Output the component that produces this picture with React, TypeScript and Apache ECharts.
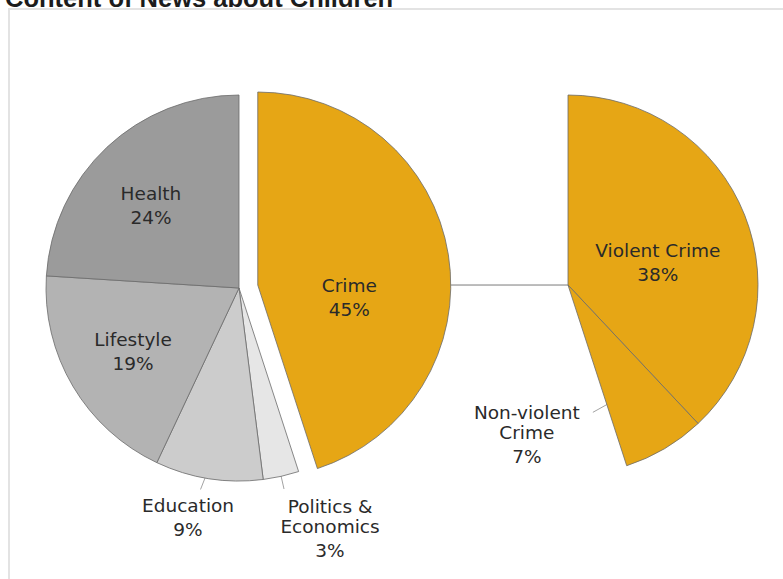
import React, { useEffect, useRef } from 'react';
import * as echarts from 'echarts';

// ---------- data ----------
const title = 'Content of News about Children';
const categories = ['Crime', 'Politics &\nEconomics', 'Education', 'Lifestyle', 'Health'];
const shares = [45, 3, 9, 19, 24];
const crimeTypes = ['Violent Crime', 'Non-violent\nCrime'];
const crimeShares = [38, 7];

// ---------- style ----------
const categoryColors = ['#E6A615', '#E6E6E6', '#CCCCCC', '#B3B3B3', '#9B9B9B'];
const crimeColor = '#E6A615';
const FONT = '"DejaVu Sans", sans-serif';
const TEXT = '#2a2a2a';
const CLEAR = 'rgba(0,0,0,0)';

const LEFT_C = [239, 288];
const LEFT_R = 193;
const OFFSET = 19;
const RIGHT_CX = 568;
const RIGHT_R = 190;

const deg = Math.PI / 180;
const total = shares.reduce((a, b) => a + b, 0);
function midAngles(values: number[], tot: number) {
  let acc = 0;
  return values.map((v) => {
    const m = ((acc + v / 2) / tot) * 360;
    acc += v;
    return m;
  });
}
const dir = (a: number) => [Math.sin(a * deg), -Math.cos(a * deg)];

const leftMids = midAngles(shares, total);
const crimeDir = dir(leftMids[0]);
// the exploded Crime slice is drawn by its own pie whose centre is pushed out along the slice's mid angle
const crimeVertex = [LEFT_C[0] + OFFSET * crimeDir[0], LEFT_C[1] + OFFSET * crimeDir[1]];
const RIGHT_C = [RIGHT_CX, crimeVertex[1]];
const remainder = total - crimeShares.reduce((a, b) => a + b, 0);
const rightMids = midAngles([...crimeShares, remainder], total);

// label placement specs (fraction of radius along mid angle + nudges)
type Spec = { k: number; sx?: number; sy?: number; line?: number[]; dx: number; dy: number } | null;
const leftSpecs: Spec[] = [
  null,
  { k: 0.91, line: [6.7, 29.6], dx: 46, dy: 41 },
  { k: 0.91, line: [-11, 28], dx: -12.5, dy: 30 },
  { k: 0.63, dx: -1.3, dy: 3.6 },
  { k: 0.63, dx: -4.8, dy: 8 },
];
const crimeSpecs: Spec[] = [{ k: 0.48, dx: 0, dy: 29 }];
const rightSpecs: Spec[] = [
  { k: 0.52, dx: -2, dy: 16 },
  { k: 0.65, sx: -11, sy: 6, line: [-27, 15], dx: -66, dy: 24 },
];

function makeLayout(center: number[], r: number, mids: number[], specs: Spec[]) {
  return (p: any) => {
    const s = specs[p.dataIndex];
    if (!s) return {};
    const d = dir(mids[p.dataIndex]);
    const sx = center[0] + d[0] * r * s.k + (s.sx || 0);
    const sy = center[1] + d[1] * r * s.k + (s.sy || 0);
    if (s.line) {
      const ex = sx + s.line[0];
      const ey = sy + s.line[1];
      return {
        x: ex + s.dx,
        y: ey + s.dy,
        align: 'center',
        verticalAlign: 'middle',
        labelLinePoints: [[sx, sy], [ex, ey], [ex, ey]],
      };
    }
    return { x: sx + s.dx, y: sy + s.dy, align: 'center', verticalAlign: 'middle' };
  };
}

const labelCommon = {
  formatter: (p: any) =>
    String(p.name)
      .split('\n')
      .map((l: string) => `{n|${l}}`)
      .join('\n') + `\n{p|${p.value}%}`,
  rich: {
    n: { fontFamily: FONT, fontSize: 18.5, lineHeight: 20, color: TEXT },
    p: { fontFamily: FONT, fontSize: 18.5, lineHeight: 28, color: TEXT },
  },
};

const borderStyle = { borderColor: '#6b6b6b', borderWidth: 0.8 };
const hidden = {
  itemStyle: { color: CLEAR, borderWidth: 0, borderColor: CLEAR },
  label: { show: false },
  labelLine: { show: false },
};
const lineStyle = { color: '#8a8a8a', width: 0.8 };

const pieBase = {
  type: 'pie',
  startAngle: 90,
  clockwise: true,
  selectedMode: false,
  avoidLabelOverlap: false,
  minShowLabelAngle: 0,
  emphasis: { disabled: true },
  label: { show: true, ...labelCommon },
};

export default function App() {
  const ref = useRef<HTMLDivElement>(null);
  useEffect(() => {
    if (!ref.current) return;
    const chart = echarts.init(ref.current, undefined, { renderer: 'svg' });

    const leftData = categories.map((name, i) => {
      if (i === 0) return { name, value: shares[i], ...hidden };
      const outside = i === 1 || i === 2;
      return {
        name,
        value: shares[i],
        itemStyle: { color: categoryColors[i], ...borderStyle },
        label: { position: outside ? 'outside' : 'inside' },
        labelLine: { show: outside, lineStyle },
      };
    });
    const crimeData = categories.map((name, i) => {
      if (i !== 0) return { name, value: shares[i], ...hidden };
      return {
        name,
        value: shares[i],
        itemStyle: { color: categoryColors[i], ...borderStyle },
        label: { position: 'inside' },
      };
    });
    const rightData: any[] = crimeTypes.map((name, i) => ({
      name,
      value: crimeShares[i],
      itemStyle: { color: crimeColor, ...borderStyle },
      label: { position: i === 1 ? 'outside' : 'inside' },
      labelLine: { show: i === 1, lineStyle },
    }));
    rightData.push({ name: '', value: remainder, ...hidden });

    chart.setOption({
      animation: false,
      graphic: [
        {
          type: 'rect',
          z: -10,
          shape: { x: 9, y: 9, width: 820, height: 620 },
          style: { fill: 'none', stroke: '#e3e3e3', lineWidth: 2 },
          silent: true,
        },
        {
          type: 'text',
          x: 5,
          y: -2,
          style: {
            text: title,
            font: 'bold 25.5px "Liberation Sans", Arial, sans-serif',
            fill: '#1c1c1c',
            verticalAlign: 'middle',
          },
          silent: true,
        },
        {
          type: 'line',
          z: 100,
          shape: {
            x1: crimeVertex[0] + LEFT_R,
            y1: crimeVertex[1],
            x2: RIGHT_C[0],
            y2: RIGHT_C[1],
          },
          style: { stroke: '#7a7a7a', lineWidth: 1 },
          silent: true,
        },
      ],
      series: [
        {
          ...pieBase,
          center: LEFT_C,
          radius: LEFT_R,
          labelLayout: makeLayout(LEFT_C, LEFT_R, leftMids, leftSpecs),
          data: leftData,
        },
        {
          ...pieBase,
          center: crimeVertex,
          radius: LEFT_R,
          labelLayout: makeLayout(crimeVertex, LEFT_R, leftMids, crimeSpecs),
          data: crimeData,
        },
        {
          ...pieBase,
          center: RIGHT_C,
          radius: RIGHT_R,
          labelLayout: makeLayout(RIGHT_C, RIGHT_R, rightMids, rightSpecs),
          data: rightData,
        },
      ],
    });
    return () => chart.dispose();
  }, []);
  return (
    <div
      ref={ref}
      style={{ position: 'fixed', left: 0, top: 0, width: 783, height: 579, background: '#fff' }}
    />
  );
}
